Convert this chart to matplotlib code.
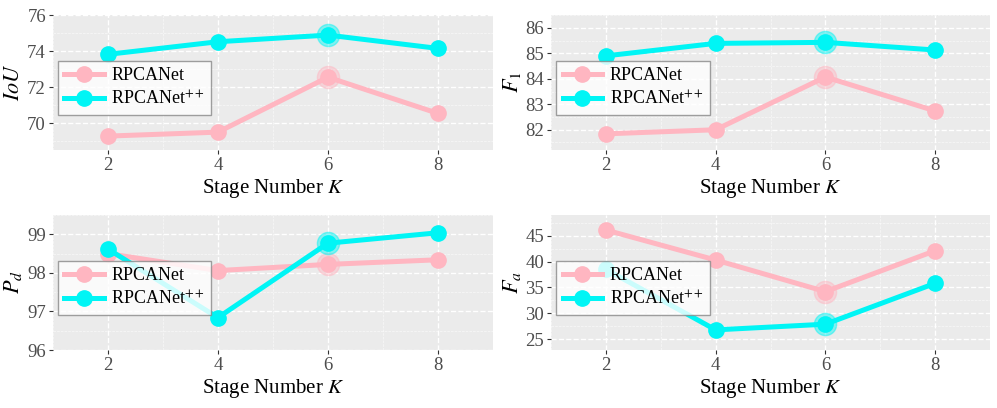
import numpy as np
import matplotlib
matplotlib.use("Agg")
import matplotlib.pyplot as plt
from matplotlib.ticker import MultipleLocator

plt.rcParams['font.family'] = ['Liberation Serif', 'DejaVu Serif']
plt.rcParams['mathtext.fontset'] = 'stix'

# Stage numbers
stages = [2, 4, 6, 8]

# IoU
iou_rpca = [69.28, 69.50, 72.55, 70.54]
iou_pp = [73.82, 74.52, 74.89, 74.15]
# F1
f1_rpca = [81.84, 82.00, 84.07, 82.74]
f1_pp = [84.90, 85.39, 85.43, 85.13]
# Pd
pd_rpca = [98.50, 98.06, 98.22, 98.34]
pd_pp = [98.62, 96.84, 98.77, 99.04]
# Fa
fa_rpca = [46.1, 40.3, 34.2, 42.1]
fa_pp = [38.5, 26.8, 27.9, 35.8]

ylabels = [r'$IoU$', r'$F_1$', r'$P_d$', r'$F_a$']
ylims = [(68.5, 76.0), (81.2, 86.5), (96.0, 99.5), (22.9, 49.0)]
yticks = [[70, 72, 74, 76], [82, 83, 84, 85, 86], [96, 97, 98, 99], [25, 30, 35, 40, 45]]
yminor = [1, 0.5, 0.5, 2.5]
series = [(iou_rpca, iou_pp), (f1_rpca, f1_pp), (pd_rpca, pd_pp), (fa_rpca, fa_pp)]

pink = '#FFB6C1'
cyan = '#00F5F5'

fig = plt.figure(figsize=(9.97, 4.08), dpi=100)
positions = [
    [0.053, 0.632, 0.4415, 0.331],
    [0.5527, 0.632, 0.4403, 0.331],
    [0.053, 0.142, 0.4415, 0.331],
    [0.5527, 0.142, 0.4403, 0.331],
]

for i, pos in enumerate(positions):
    ax = fig.add_axes(pos)
    ax.set_facecolor('#EBEBEB')
    for s in ax.spines.values():
        s.set_visible(False)
    ax.set_xlim(1, 9)
    ax.set_ylim(*ylims[i])
    ax.set_xticks(stages)
    ax.set_yticks(yticks[i])
    ax.xaxis.set_minor_locator(MultipleLocator(1))
    ax.yaxis.set_minor_locator(MultipleLocator(yminor[i]))
    ax.grid(True, which='major', color='white', linestyle='--', linewidth=1.0)
    ax.grid(True, which='minor', color='white', linestyle='--', linewidth=0.5, alpha=0.7)
    ax.set_axisbelow(True)
    ax.tick_params(which='major', length=3, color='#333333', labelsize=13.5,
                   labelcolor='#4D4D4D', pad=2)
    ax.tick_params(which='minor', length=0)

    rp, pp = series[i]
    ax.plot(stages, rp, '-o', color=pink, linewidth=3.6, markersize=11, label='RPCANet', zorder=3)
    ax.plot(stages, pp, '-o', color=cyan, linewidth=3.6, markersize=11, label=r'RPCANet$^{++}$', zorder=4)
    # highlighted best stage
    ax.plot(stages[2], rp[2], 'o', color=pink, markersize=16, alpha=0.45, zorder=3)
    ax.plot(stages[2], pp[2], 'o', color=cyan, markersize=16, alpha=0.45, zorder=4)

    ax.set_xlabel(r'Stage Number $K$', fontsize=15, labelpad=2)
    ax.set_ylabel(ylabels[i], fontsize=16, labelpad=2)

    leg = ax.legend(loc='upper left', bbox_to_anchor=(0.012, 0.66), fontsize=13,
                    fancybox=False, framealpha=0.8, edgecolor='#888888',
                    handlelength=2.2, borderpad=0.35, labelspacing=0.3,
                    handletextpad=0.4, borderaxespad=0)
    leg.get_frame().set_linewidth(1.0)
    leg.set_zorder(5)

fig.savefig('out.png', dpi=100)
